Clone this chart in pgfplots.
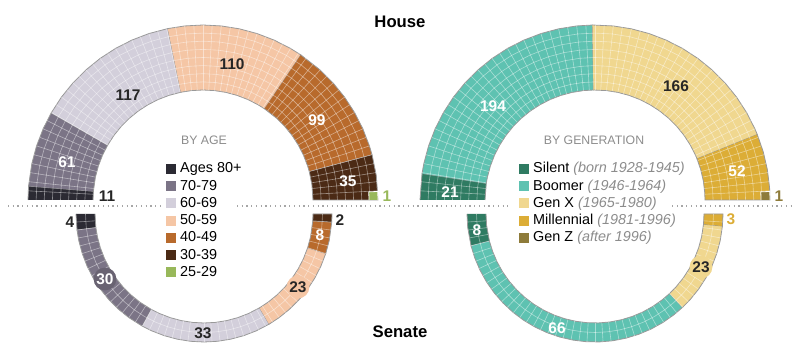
\documentclass[border=0pt]{standalone}
\usepackage{fontspec}
\setmainfont{Liberation Sans}
\usepackage{pgfplots}
\usepackage{pgfplotstable}
\pgfplotsset{compat=1.18}
\definecolor{a80}{HTML}{2B2A33}
\definecolor{a70}{HTML}{7B7486}
\definecolor{a60}{HTML}{D3CFDB}
\definecolor{a50}{HTML}{F5C6A5}
\definecolor{a40}{HTML}{B86A2C}
\definecolor{a30}{HTML}{4B2A15}
\definecolor{a25}{HTML}{98B85A}
\definecolor{gsi}{HTML}{2F7B62}
\definecolor{gbo}{HTML}{5EC2B1}
\definecolor{gx}{HTML}{F0D78F}
\definecolor{gmi}{HTML}{DCAD36}
\definecolor{gz}{HTML}{8E7B3A}
\definecolor{lgray}{HTML}{8C8C8C}
\pgfplotsset{
  table/LH/.style={x expr={203+\thisrow{r}*cos(\thisrow{a})}, y expr={161+\thisrow{r}*sin(\thisrow{a})}},
  table/LS/.style={x expr={204+\thisrow{r}*cos(\thisrow{a})}, y expr={147+\thisrow{r}*sin(\thisrow{a})}},
  table/RH/.style={x expr={595+\thisrow{r}*cos(\thisrow{a})}, y expr={161+\thisrow{r}*sin(\thisrow{a})}},
  table/RS/.style={x expr={595+\thisrow{r}*cos(\thisrow{a})}, y expr={147+\thisrow{r}*sin(\thisrow{a})}},
  sector/.style={fill=#1, draw=black!40, line width=0.45pt},
  gridl/.style={forget plot, white, line width=0.35pt, opacity=0.45},
  panel/.style={width=8cm, height=7.22cm, scale only axis, ymin=0, ymax=361, hide axis, clip=false,
    legend cell align=left,
    legend image code/.code={\fill[##1,draw=none] (0pt,-2.8pt) rectangle (5.6pt,2.8pt);},
    legend style={draw=none, fill=none, inner sep=0pt, row sep=0pt, column sep=1.5pt,
      font=\fontsize{8.2}{9}\selectfont, anchor=north west,
      nodes={inner sep=0.8pt, text height=6.4pt, text depth=1.8pt}}},
}
\pgfplotstableread{
r d
110 0
175 0
}\hradii
\pgfplotstableread{
r d
109 0
128 0
}\sradii
\pgfplotstableread{
a d
0 0
6 0
12 0
18 0
24 0
30 0
36 0
42 0
48 0
54 0
60 0
66 0
72 0
78 0
84 0
90 0
96 0
102 0
108 0
114 0
120 0
126 0
132 0
138 0
144 0
150 0
156 0
162 0
168 0
174 0
180 0
}\harc
\newcommand\lab{\fontsize{8.8}{10}\selectfont\bfseries}
\begin{document}
\begin{tikzpicture}
\useasboundingbox (0,0) rectangle (16cm,7.22cm);
%%%%%%%%%%%%%%%% LEFT PANEL: BY AGE
\begin{axis}[panel, at={(0,0)}, anchor=south west, xmin=0, xmax=400,
  legend style={at={(axis cs:166,201)}}]
% House
\addplot[sector=a80] table[LH]{
a r
180 175
175.44 175
175.44 110
180 110
};
\addlegendentry{Ages 80+}
\addplot[sector=a70] table[LH]{
a r
175.44 175
168 175
162 175
156 175
150.14 175
150.14 110
156 110
162 110
168 110
175.44 110
};
\addlegendentry{70-79}
\addplot[sector=a60] table[LH]{
a r
150.14 175
144 175
138 175
132 175
126 175
120 175
114 175
108 175
101.61 175
101.61 110
108 110
114 110
120 110
126 110
132 110
138 110
144 110
150.14 110
};
\addlegendentry{60-69}
\addplot[sector=a50] table[LH]{
a r
101.61 175
96 175
90 175
84 175
78 175
72 175
66 175
60 175
55.99 175
55.99 110
60 110
66 110
72 110
78 110
84 110
90 110
96 110
101.61 110
};
\addlegendentry{50-59}
\addplot[sector=a40] table[LH]{
a r
55.99 175
48 175
42 175
36 175
30 175
24 175
18 175
14.93 175
14.93 110
18 110
24 110
30 110
36 110
42 110
48 110
55.99 110
};
\addlegendentry{40-49}
\addplot[sector=a30] table[LH]{
a r
14.93 175
8 175
0 175
0 110
8 110
14.93 110
};
\addlegendentry{30-39}
% seat grid, House
\pgfplotsinvokeforeach{3,6,...,177}{\addplot[gridl] table[x expr={203+\thisrow{r}*cos(#1)}, y expr={161+\thisrow{r}*sin(#1)}] {\hradii};}
\pgfplotsinvokeforeach{118.1,126.3,134.4,142.5,150.6,158.8,166.9}{\addplot[gridl] table[x expr={203+#1*cos(\thisrow{a})}, y expr={161+#1*sin(\thisrow{a})}] {\harc};}
\addplot[sector=a25, draw=white] table[LH]{
a r
0 175
2.8 175
2.8 166
0 166
};
\addlegendentry{25-29}
% Senate
\addplot[sector=a80, forget plot] table[LS]{
a r
180 128
187.2 128
187.2 109
180 109
};
\addplot[sector=a70, forget plot] table[LS]{
a r
187.2 128
192 128
198 128
204 128
210 128
216 128
222 128
228 128
234 128
241.2 128
241.2 109
234 109
228 109
222 109
216 109
210 109
204 109
198 109
192 109
187.2 109
};
\addplot[sector=a60, forget plot] table[LS]{
a r
241.2 128
246 128
252 128
258 128
264 128
270 128
276 128
282 128
288 128
294 128
300.6 128
300.6 109
294 109
288 109
282 109
276 109
270 109
264 109
258 109
252 109
246 109
241.2 109
};
\addplot[sector=a50, forget plot] table[LS]{
a r
300.6 128
306 128
312 128
318 128
324 128
330 128
336 128
342 128
342 109
336 109
330 109
324 109
318 109
312 109
306 109
300.6 109
};
\addplot[sector=a40, forget plot] table[LS]{
a r
342 128
348 128
356.4 128
356.4 109
348 109
342 109
};
\addplot[sector=a30, forget plot] table[LS]{
a r
356.4 128
360 128
360 109
356.4 109
};
% seat grid, Senate
\pgfplotsinvokeforeach{3.6,7.2,...,176.5}{\addplot[gridl] table[x expr={204+\thisrow{r}*cos(#1)}, y expr={147-\thisrow{r}*sin(#1)}] {\sradii};}
\addplot[gridl] table[x expr={204+118.5*cos(\thisrow{a})}, y expr={147-118.5*sin(\thisrow{a})}] {\harc};
% dotted separator
\addplot[forget plot, dotted, gray!70, line width=0.7pt] coordinates {(8,155) (163,155)};
\addplot[forget plot, dotted, gray!70, line width=0.7pt] coordinates {(237,155) (508,155)};
% labels
\node[text=black!85] at (axis cs:128,266) {\lab 117};
\node[text=black!85] at (axis cs:232,297) {\lab 110};
\node[text=white] at (axis cs:317,241) {\lab 99};
\node[text=white] at (axis cs:348,180) {\lab 35};
\node[text=white] at (axis cs:67,199) {\lab 61};
\node[text=black!85] at (axis cs:107,165) {\lab 11};
\node[text=a25] at (axis cs:387,165) {\lab 1};
\node[text=lgray] at (axis cs:204,221) {\fontsize{7}{8}\selectfont BY AGE};
\node[text=black!85] at (axis cs:70,139) {\lab 4};
\node[text=white, fill=a70!85!black, circle, inner sep=0.5pt] at (axis cs:105,82) {\lab 30};
\node[text=black!85] at (axis cs:203,28) {\lab 33};
\node[text=black!85, fill=a50, circle, inner sep=0.5pt] at (axis cs:298,74) {\lab 23};
\node[text=white] at (axis cs:320,126) {\lab 8};
\node[text=black!85] at (axis cs:340,141) {\lab 2};
% titles
\node at (axis cs:400,339) {\fontsize{9.5}{11}\selectfont\bfseries House};
\node at (axis cs:400,29) {\fontsize{9.5}{11}\selectfont\bfseries Senate};
\end{axis}
%%%%%%%%%%%%%%%% RIGHT PANEL: BY GENERATION
\begin{axis}[panel, at={(8cm,0)}, anchor=south west, xmin=400, xmax=800,
  legend style={at={(axis cs:519,201)}}]
\addplot[sector=gsi] table[RH]{
a r
180 175
171.29 175
171.29 110
180 110
};
\addlegendentry{Silent {\color{lgray}\itshape (born 1928-1945)}}
\addplot[sector=gbo] table[RH]{
a r
171.29 175
168 175
162 175
156 175
150 175
144 175
138 175
132 175
126 175
120 175
114 175
108 175
102 175
96 175
90.83 175
90.83 110
96 110
102 110
108 110
114 110
120 110
126 110
132 110
138 110
144 110
150 110
156 110
162 110
168 110
171.29 110
};
\addlegendentry{Boomer {\color{lgray}\itshape (1946-1964)}}
\addplot[sector=gx] table[RH]{
a r
90.83 175
84 175
78 175
72 175
66 175
60 175
54 175
48 175
42 175
36 175
30 175
24 175
21.98 175
21.98 110
24 110
30 110
36 110
42 110
48 110
54 110
60 110
66 110
72 110
78 110
84 110
90.83 110
};
\addlegendentry{Gen X {\color{lgray}\itshape (1965-1980)}}
\addplot[sector=gmi] table[RH]{
a r
21.98 175
16 175
10 175
4 175
0 175
0 110
4 110
10 110
16 110
21.98 110
};
\addlegendentry{Millennial {\color{lgray}\itshape (1981-1996)}}
% seat grid, House
\pgfplotsinvokeforeach{3,6,...,177}{\addplot[gridl] table[x expr={595+\thisrow{r}*cos(#1)}, y expr={161+\thisrow{r}*sin(#1)}] {\hradii};}
\pgfplotsinvokeforeach{118.1,126.3,134.4,142.5,150.6,158.8,166.9}{\addplot[gridl] table[x expr={595+#1*cos(\thisrow{a})}, y expr={161+#1*sin(\thisrow{a})}] {\harc};}
\addplot[sector=gz, draw=white] table[RH]{
a r
0 175
2.8 175
2.8 166
0 166
};
\addlegendentry{Gen Z {\color{lgray}\itshape (after 1996)}}
% Senate
\addplot[sector=gsi, forget plot] table[RS]{
a r
180 128
186 128
194.4 128
194.4 109
186 109
180 109
};
\addplot[sector=gbo, forget plot] table[RS]{
a r
194.4 128
200 128
206 128
212 128
218 128
224 128
230 128
236 128
242 128
248 128
254 128
260 128
266 128
272 128
278 128
284 128
290 128
296 128
302 128
308 128
313.2 128
313.2 109
308 109
302 109
296 109
290 109
284 109
278 109
272 109
266 109
260 109
254 109
248 109
242 109
236 109
230 109
224 109
218 109
212 109
206 109
200 109
194.4 109
};
\addplot[sector=gx, forget plot] table[RS]{
a r
313.2 128
318 128
324 128
330 128
336 128
342 128
348 128
354.6 128
354.6 109
348 109
342 109
336 109
330 109
324 109
318 109
313.2 109
};
\addplot[sector=gmi, forget plot] table[RS]{
a r
354.6 128
360 128
360 109
354.6 109
};
\pgfplotsinvokeforeach{3.6,7.2,...,176.5}{\addplot[gridl] table[x expr={595+\thisrow{r}*cos(#1)}, y expr={147-\thisrow{r}*sin(#1)}] {\sradii};}
\addplot[gridl] table[x expr={595+118.5*cos(\thisrow{a})}, y expr={147-118.5*sin(\thisrow{a})}] {\harc};
\addplot[forget plot, dotted, gray!70, line width=0.7pt] coordinates {(672,155) (793,155)};
% labels
\node[text=white] at (axis cs:493,255) {\lab 194};
\node[text=black!85] at (axis cs:676,275) {\lab 166};
\node[text=white] at (axis cs:737,190) {\lab 52};
\node[text=white] at (axis cs:450,169) {\lab 21};
\node[text=gz] at (axis cs:779,165) {\lab 1};
\node[text=lgray] at (axis cs:594,221) {\fontsize{7}{8}\selectfont BY GENERATION};
\node[text=white] at (axis cs:477,131) {\lab 8};
\node[text=white] at (axis cs:557,33) {\lab 66};
\node[text=black!85, fill=gx, circle, inner sep=0.5pt] at (axis cs:701,94) {\lab 23};
\node[text=gmi] at (axis cs:731,142) {\lab 3};
\end{axis}
\end{tikzpicture}
\end{document}
